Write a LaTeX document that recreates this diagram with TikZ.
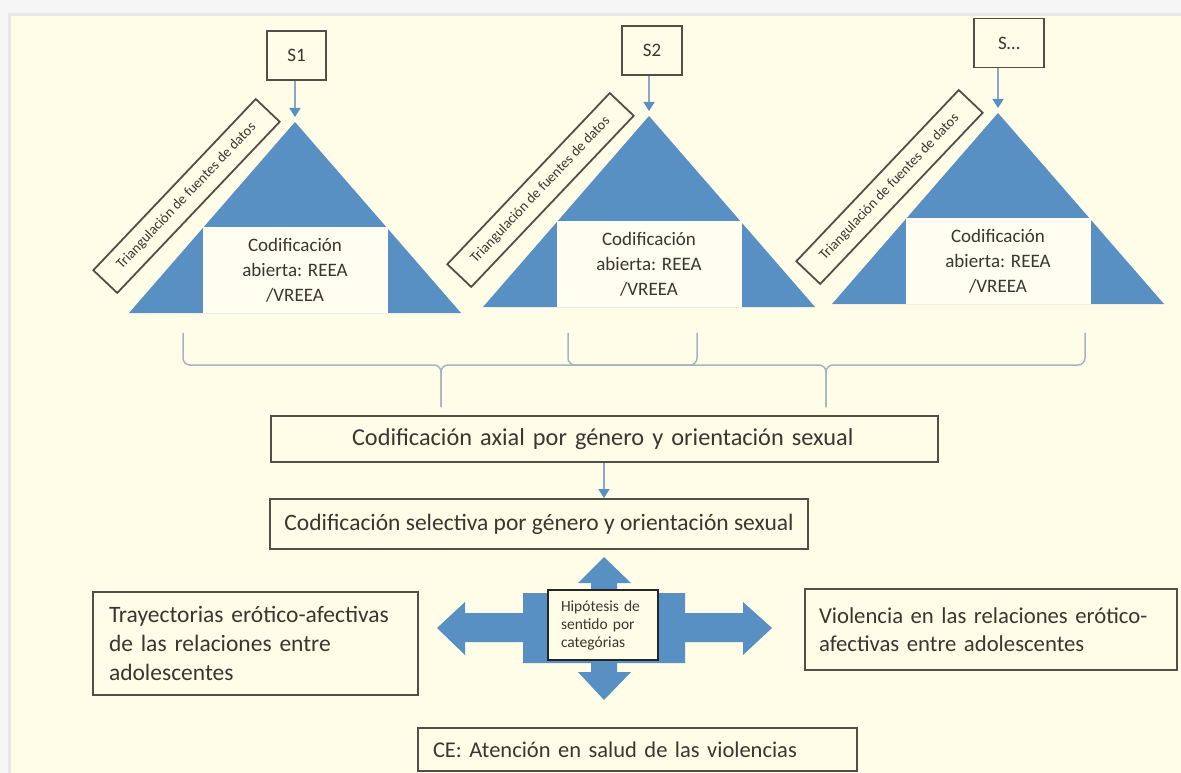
\documentclass[tikz,border=0pt]{standalone}
\usepackage{fontspec}
\setmainfont{Carlito}
\usetikzlibrary{arrows.meta}

\definecolor{cream}{RGB}{255,253,232}
\definecolor{triblue}{RGB}{88,144,196}
\definecolor{ink}{RGB}{58,54,48}
\definecolor{frame}{RGB}{82,79,70}
\definecolor{bracegray}{RGB}{165,180,196}
\definecolor{stem}{RGB}{140,166,196}

\begin{document}
\begin{tikzpicture}[x=1pt,y=-1pt,
 box/.style={draw=frame,line width=1.8pt,text=ink,inner sep=0pt},
 bigtext/.style={font=\fontsize{23.5}{29}\selectfont},
 sbox/.style={box,font=\fontsize{19}{23}\selectfont,minimum height=49},
 codbox/.style={fill=cream!60!white,text=ink,inner sep=0pt,minimum width=185,
  minimum height=86,align=center,font=\fontsize{19}{25}\selectfont},
 lbl/.style={box,minimum width=236,minimum height=33,font=\fontsize{14.3}{17}\selectfont},
 sarrow/.style={draw=stem,line width=1.5pt,-{Triangle[width=11pt,length=9pt,color=triblue]}},
 brace/.style={draw=bracegray,line width=1.5pt,rounded corners=7}]

\useasboundingbox (0,0) rectangle (1181,773);
\fill[black!4] (0,0) rectangle (1181,773);
\draw[black!9,line width=3pt] (9.5,773) |- (1181,14.5);
\fill[cream] (11,16) rectangle (1181,773);

% triangles with their source boxes
\foreach \i/\ax/\ay/\sx/\sy/\sw/\t in
 {1/295/122/296.5/55.5/59/S1, 2/649/116/652/50.5/60/S2, 3/998/113/1009/43/70/{S\dots}}
{
 \coordinate (a\i) at (\ax,\ay);
 \coordinate (p\i) at (\ax,\ay-5);
 \fill[triblue] (a\i) -- ++(-166,191) -- ++(332,0) -- cycle;
 \node[codbox] (cod\i) at (\ax,\ay+148) {Codificación\\abierta: REEA\\/VREEA};
 \node[sbox,minimum width=\sw] (s\i) at (\sx,\sy) {\t};
 \draw[sarrow] (s\i.south -| a\i) -- (p\i);
 \node[lbl,rotate=46.5] (tl\i) at (\ax-108.5,\ay+74) {Triangulación de fuentes de datos};
}

% braces
\coordinate (bA) at (441,407);
\coordinate (bB) at (826,407);
\draw[brace] (183,333) |- (bA |- 0,365) -- (bA);
\draw[brace] (bA) -- (bA |- 0,365) -| (697,333);
\draw[brace] (568,333) |- (bB |- 0,365) -- (bB);
\draw[brace] (bB) -- (bB |- 0,365) -| (1085,333);

\node[box,font=\fontsize{24.3}{29}\selectfont,minimum height=46,inner xsep=81,
 text width=505,align=left] (axial) at (604.5,439)
 {Codificación axial por género y orientación sexual};
\node[box,bigtext,minimum width=538,minimum height=50] (selective) at (539,524)
 {Codificación selectiva por género y orientación sexual};
\draw[sarrow] (axial.south -| 604,0) -- (selective.north -| 604,0);

% four-way arrow
\fill[triblue] (604,557) -- (631,583) -- (617,583) -- (617,593) -- (685,593)
 -- (685,613) -- (743,613) -- (743,602) -- (772,628) -- (743,655) -- (743,642)
 -- (685,642) -- (685,663) -- (617,663) -- (617,672) -- (631,672) -- (604,700)
 -- (578,672) -- (591,672) -- (591,663) -- (523,663) -- (523,642) -- (465,642)
 -- (465,655) -- (437,628) -- (465,602) -- (465,613) -- (523,613) -- (523,593)
 -- (591,593) -- (591,583) -- (578,583) -- cycle;
\node[box,fill=cream,draw=black!85,minimum height=70,inner xsep=13,text width=84,
 align=left,font=\fontsize{15.5}{18}\selectfont] (hip) at (603,625)
 {Hipótesis de\\sentido por\\categórias};

\node[box,bigtext,minimum height=103,inner xsep=16,text width=293,align=left] (tray)
 at (255.5,643.5) {Trayectorias erótico-afectivas\\de las relaciones entre\\adolescentes};
\node[box,font=\fontsize{22.7}{28}\selectfont,minimum height=81,inner xsep=14,
 text width=344,align=left] (viol)
 at (991,629.5) {Violencia en las relaciones erótico-\\afectivas entre adolescentes};
\node[box,font=\fontsize{22.5}{28}\selectfont,minimum height=43,inner xsep=15,
 text width=409,align=left] (ce)
 at (637.5,749.5) {CE: Atención en salud de las violencias};

\end{tikzpicture}
\end{document}
